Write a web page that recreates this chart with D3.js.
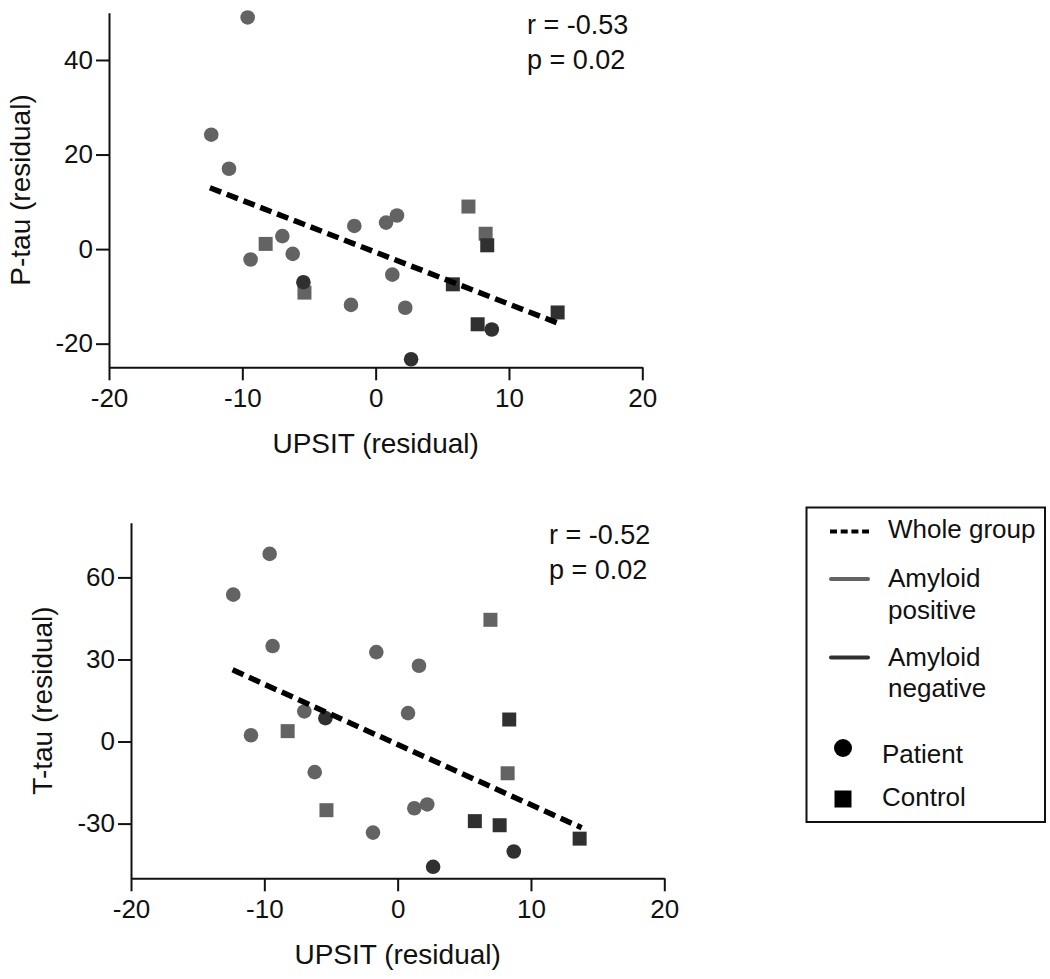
<!DOCTYPE html>
<html>
<head>
<meta charset="utf-8">
<script src="https://cdn.jsdelivr.net/npm/d3@7"></script>
<style>
  html, body { margin: 0; padding: 0; background: #fff; }
  svg { display: block; }
  text { font-family: "Liberation Sans", Arial, Helvetica, sans-serif; fill: #111; }
</style>
</head>
<body>
<svg id="chart" width="1050" height="979"></svg>
<script>
// ---- Data ----
const upsit = [-9.6, -12.33, -11.0, -1.6, 0.78, 1.6, -7.0, -9.38, -6.22, 1.25, -1.85, 2.22,
               -5.42, 8.71, 2.66,
               -8.25, -5.34, 6.96, 8.25,
               8.37, 5.79, 7.65, 13.65];
const ptau = [49.0, 24.2, 17.0, 4.9, 5.6, 7.1, 2.75, -2.2, -1.0, -5.4, -11.8, -12.4,
              -7.0, -17.0, -23.3,
              1.1, -9.2, 9.0, 3.25,
              0.8, -7.45, -15.9, -13.4];
const ttau = [68.6, 53.7, 2.3, 32.7, 10.4, 27.7, 11.0, 34.9, -11.2, -24.4, -33.3, -23.0,
              8.55, -40.2, -45.8,
              3.8, -25.1, 44.5, -11.6,
              8.05, -29.1, -30.6, -35.5];
const amyloid = ["pos","pos","pos","pos","pos","pos","pos","pos","pos","pos","pos","pos",
                 "neg","neg","neg",
                 "pos","pos","pos","pos",
                 "neg","neg","neg","neg"];
const subject = ["Patient","Patient","Patient","Patient","Patient","Patient","Patient","Patient","Patient","Patient","Patient","Patient",
                 "Patient","Patient","Patient",
                 "Control","Control","Control","Control",
                 "Control","Control","Control","Control"];

// Whole-group fit line endpoints
const ptauFitX = [-12.43, 13.62];
const ptauFitY = [12.97, -15.6];
const ttauFitX = [-12.38, 13.8];
const ttauFitY = [26.2, -31.5];

const xTicks = [-20, -10, 0, 10, 20];
const ptauTicks = [-20, 0, 20, 40];
const ttauTicks = [-30, 0, 30, 60];

const statsTop = ["r = -0.53", "p = 0.02"];
const statsBottom = ["r = -0.52", "p = 0.02"];

const legendLabels = ["Whole group", ["Amyloid", "positive"], ["Amyloid", "negative"], "Patient", "Control"];

// ---- Styles ----
const colorFor = { pos: "#636363", neg: "#303030" };
const FONT_TICK = 26, FONT_TITLE = 28, FONT_STAT = 27, FONT_LEG = 26;

const svg = d3.select("#chart");
svg.append("rect").attr("width", 1050).attr("height", 979).attr("fill", "#fff");

const points = upsit.map((x, i) => ({ x, ptau: ptau[i], ttau: ttau[i], amy: amyloid[i], sub: subject[i] }));
// draw order: grey squares, grey circles, dark squares, dark circles
const orderKey = d => (d.amy === "pos" ? 0 : 2) + (d.sub === "Control" ? 0 : 1);
const drawPoints = points.slice().sort((a, b) => orderKey(a) - orderKey(b));

function panel(cfg) {
  const x = d3.scaleLinear().domain([-20, 20]).range([cfg.left, cfg.right]);
  const y = d3.scaleLinear().domain(cfg.yDomain).range([cfg.bottom, cfg.top]);
  const g = svg.append("g");

  // axes
  const xa = g.append("g").attr("transform", `translate(0,${cfg.bottom})`)
    .call(d3.axisBottom(x).tickValues(xTicks).tickFormat(d3.format("d")).tickSize(13).tickSizeOuter(0).tickPadding(8));
  const ya = g.append("g").attr("transform", `translate(${cfg.left},0)`)
    .call(d3.axisLeft(y).tickValues(cfg.yTicks).tickFormat(d3.format("d")).tickSize(13).tickSizeOuter(0).tickPadding(3));
  [xa, ya].forEach(a => {
    a.select(".domain").attr("stroke", "#111").attr("stroke-width", 2);
    a.selectAll(".tick line").attr("stroke", "#111").attr("stroke-width", 2);
    a.selectAll(".tick text").attr("font-size", FONT_TICK).attr("fill", "#111")
      .attr("font-family", '"Liberation Sans", Arial, sans-serif');
  });
  xa.selectAll(".tick text").text(d => d < 0 ? "-" + Math.abs(d) : d);
  ya.selectAll(".tick text").text(d => d < 0 ? "-" + Math.abs(d) : d);

  // points
  const key = cfg.key;
  const r = 7.3, s = 14;
  g.append("g").selectAll("path").data(drawPoints).join("path")
    .attr("d", d => d.sub === "Patient"
      ? d3.symbol().type(d3.symbolCircle).size(Math.PI * r * r)()
      : d3.symbol().type(d3.symbolSquare).size(s * s)())
    .attr("transform", d => `translate(${x(d.x)},${y(d[key])})`)
    .attr("fill", d => colorFor[d.amy]);

  // fit line
  const fit = cfg.fitX.map((v, i) => [v, cfg.fitY[i]]);
  g.append("path").datum(fit)
    .attr("d", d3.line().x(d => x(d[0])).y(d => y(d[1])))
    .attr("fill", "none").attr("stroke", "#000").attr("stroke-width", 5.5)
    .attr("stroke-dasharray", "12,6");

  // stats
  g.selectAll("text.stat").data(cfg.stats).join("text").attr("class", "stat")
    .attr("x", cfg.left + 418).attr("y", (d, i) => cfg.top + 20.8 + i * 35)
    .attr("font-size", FONT_STAT).text(d => d);

  // axis titles
  g.append("text").attr("text-anchor", "middle")
    .attr("x", x(0)).attr("y", cfg.bottom + 86)
    .attr("font-size", FONT_TITLE).text("UPSIT (residual)");
  g.append("text").attr("text-anchor", "middle")
    .attr("transform", `translate(${cfg.left - 79},${(cfg.top + cfg.bottom) / 2}) rotate(-90)`)
    .attr("font-size", FONT_TITLE).text(cfg.yTitle);
}

panel({ left: 109, right: 642.3, top: 12.7, bottom: 367.3, yDomain: [-25, 50], yTicks: ptauTicks,
        key: "ptau", fitX: ptauFitX, fitY: ptauFitY, stats: statsTop, yTitle: "P-tau (residual)" });
panel({ left: 131, right: 664.3, top: 522.7, bottom: 878.3, yDomain: [-50, 80], yTicks: ttauTicks,
        key: "ttau", fitX: ttauFitX, fitY: ttauFitY, stats: statsBottom, yTitle: "T-tau (residual)" });

// ---- Legend ----
const lg = svg.append("g");
lg.append("rect").attr("x", 806.5).attr("y", 507.5).attr("width", 238.5).attr("height", 314.5)
  .attr("fill", "none").attr("stroke", "#111").attr("stroke-width", 2);

lg.append("line").attr("x1", 830).attr("x2", 869).attr("y1", 531.5).attr("y2", 531.5)
  .attr("stroke", "#000").attr("stroke-width", 4).attr("stroke-dasharray", "7,3.7");
lg.append("line").attr("x1", 831).attr("x2", 868).attr("y1", 579).attr("y2", 579)
  .attr("stroke", colorFor.pos).attr("stroke-width", 4).attr("stroke-linecap", "round");
lg.append("line").attr("x1", 831).attr("x2", 868).attr("y1", 657.5).attr("y2", 657.5)
  .attr("stroke", colorFor.neg).attr("stroke-width", 4).attr("stroke-linecap", "round");
lg.append("path").attr("d", d3.symbol().type(d3.symbolCircle).size(Math.PI * 9 * 9)())
  .attr("transform", "translate(843,748)").attr("fill", "#000");
lg.append("path").attr("d", d3.symbol().type(d3.symbolSquare).size(17 * 17)())
  .attr("transform", "translate(843,799)").attr("fill", "#000");

lg.append("text").attr("x", 888).attr("y", 538).attr("font-size", FONT_LEG).text(legendLabels[0]);
lg.append("text").attr("x", 888).attr("y", 587).attr("font-size", FONT_LEG).text(legendLabels[1][0]);
lg.append("text").attr("x", 888).attr("y", 619).attr("font-size", FONT_LEG).text(legendLabels[1][1]);
lg.append("text").attr("x", 888).attr("y", 666).attr("font-size", FONT_LEG).text(legendLabels[2][0]);
lg.append("text").attr("x", 888).attr("y", 697).attr("font-size", FONT_LEG).text(legendLabels[2][1]);
lg.append("text").attr("x", 882).attr("y", 763).attr("font-size", FONT_LEG).text(legendLabels[3]);
lg.append("text").attr("x", 882).attr("y", 806).attr("font-size", FONT_LEG).text(legendLabels[4]);
</script>
</body>
</html>
